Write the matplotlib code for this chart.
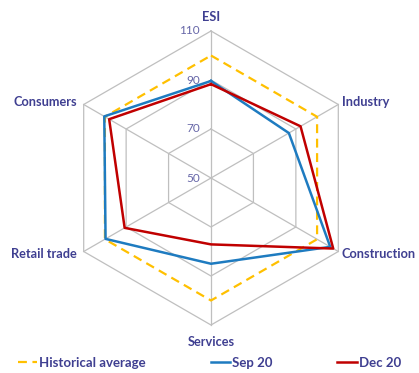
import numpy as np
import matplotlib
matplotlib.use("Agg")
import matplotlib.pyplot as plt

categories = ["ESI", "Industry", "Construction", "Services", "Retail trade", "Consumers"]
historical_average = [100, 100, 100, 100, 100, 100]
sep_20 = [89.6, 86.7, 106.2, 85.0, 99.7, 100.3]
dec_20 = [88.3, 92.2, 107.6, 77.1, 90.7, 98.0]
ring_values = [50, 70, 90, 110]
ring_labels = ["50", "70", "90", "110"]

TEXT = "#3F3F91"
GRID = "#BFBFBF"

plt.rcParams["font.family"] = ["Lato", "DejaVu Sans"]

fig = plt.figure(figsize=(4.19, 3.73), dpi=100)
ax = fig.add_axes([64 / 419, 48 / 373, 294 / 419, 294 / 373], projection="polar")
ax.set_theta_offset(np.pi / 2)
ax.set_theta_direction(-1)
ax.set_ylim(ring_values[0], ring_values[-1])
ax.grid(False)
ax.spines["polar"].set_visible(False)
ax.set_xticks([])
ax.set_yticks([])

n = len(categories)
angles = np.linspace(0, 2 * np.pi, n, endpoint=False)
closed = np.append(angles, angles[0])

# hexagonal rings and spokes
for r in ring_values[1:]:
    ax.plot(closed, [r] * (n + 1), color=GRID, lw=0.9, zorder=1, clip_on=False)
for a in angles:
    ax.plot([a, a], [ring_values[0], ring_values[-1]], color=GRID, lw=0.9, zorder=1, clip_on=False)

def close(vals):
    return list(vals) + [vals[0]]

ax.plot(closed, close(historical_average), color="#FFC000", lw=1.6,
        dashes=(4, 2.5), label="Historical average", zorder=3, clip_on=False)
ax.plot(closed, close(sep_20), color="#1E7BC0", lw=1.8, label="Sep 20", zorder=4, clip_on=False)
ax.plot(closed, close(dec_20), color="#C00000", lw=1.8, label="Dec 20", zorder=5, clip_on=False)

# ring value labels along the top spoke
for r, lab in zip(ring_values, ring_labels):
    ax.annotate(lab, xy=(0, r), xytext=(-8, 0), textcoords="offset points",
                ha="right", va="center", color=TEXT, fontsize=8.5, alpha=0.8)

# category labels
label_pos = [
    ("center", "bottom", (0, 6)),
    ("left", "center", (3, 2)),
    ("left", "center", (2, -2)),
    ("center", "top", (0, -8)),
    ("right", "center", (-5, -2)),
    ("right", "center", (-5, 2)),
]
for a, name, (ha, va, off) in zip(angles, categories, label_pos):
    ax.annotate(name, xy=(a, ring_values[-1]), xytext=off, textcoords="offset points",
                ha=ha, va=va, color=TEXT, fontsize=9.2, fontweight="bold",
                annotation_clip=False)

fig.legend(loc="center", bbox_to_anchor=(0.5, 1 - 363 / 373), ncol=3, frameon=False,
           handlelength=1.5, handletextpad=0.15, columnspacing=4.9,
           prop={"size": 9.5, "weight": "bold"}, labelcolor=TEXT)

fig.savefig("out.png", dpi=100)
